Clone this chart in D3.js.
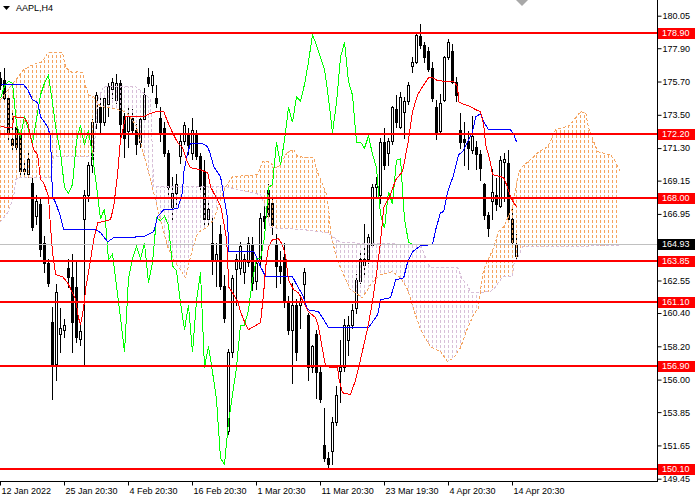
<!DOCTYPE html>
<html>
<head>
<meta charset="utf-8">
<script src="https://cdn.jsdelivr.net/npm/d3@7"></script>
<style>
  body { margin: 0; background: #fff; }
  svg text { font-family: "Liberation Sans", Arial, sans-serif; font-size: 9px; }
</style>
</head>
<body>
<div id="chart"></div>
<script>
// AAPL H4 bars, 12 Jan 2022 20:30 .. 18 Apr 16:30
const opens = [175.9,175.8,174.6,171.9,172.7,172.2,169.8,169.6,169.0,166.8,
  167.6,165.0,163.7,159.8,157.0,159.0,159.3,163.4,162.8,162.1,
  158.7,166.6,168.2,170.2,173.0,174.0,173.0,174.2,175.2,174.5,
  175.6,173.4,172.4,173.3,172.5,171.7,173.2,176.0,175.5,174.6,
  173.3,172.6,171.0,167.4,168.3,170.8,171.8,172.2,171.0,172.3,
  170.8,169.8,166.6,165.0,163.9,165.6,162.2,152.6,157.8,163.3,
  163.4,163.1,163.8,164.9,162.5,163.9,166.8,168.5,167.7,164.9,
  163.5,164.1,161.1,159.3,160.9,160.9,162.3,160.3,156.8,159.0,
  156.5,151.7,150.8,151.3,153.2,156.6,156.8,158.6,159.6,160.7,
  162.5,163.6,164.0,164.9,168.7,168.2,171.7,171.0,171.8,173.9,
  172.7,173.7,174.4,176.7,177.0,178.7,178.1,177.7,176.6,174.0,
  172.4,174.5,177.3,177.7,175.7,172.5,171.9,171.8,171.2,171.4,
  170.9,168.9,166.9,167.8,168.2,167.5,170.4,170.3,166.6,164.2];
const highs = [176.3,176.6,174.8,173.6,173.1,172.5,170.3,171.0,169.3,168.2,
  168.0,165.5,164.0,160.8,162.3,160.7,160.0,164.0,164.3,163.8,
  159.8,168.5,170.4,173.2,175.0,174.6,174.8,175.6,175.9,176.2,
  175.8,173.6,174.0,173.9,172.9,173.4,175.3,176.6,176.4,175.5,
  174.0,173.0,171.2,169.4,169.6,172.2,173.0,172.6,173.3,172.5,
  171.0,170.5,167.8,166.7,165.0,166.2,162.9,158.0,162.9,164.3,
  165.1,164.3,165.4,165.4,163.8,167.0,167.7,168.9,168.1,165.6,
  164.5,165.0,161.5,162.4,161.3,161.6,163.4,160.4,158.3,159.3,
  156.9,154.1,151.2,153.5,155.6,158.6,160.0,160.2,161.0,163.0,
  164.5,166.3,165.6,168.9,169.4,172.0,172.6,172.0,174.1,174.8,
  175.0,174.7,175.7,177.3,178.9,179.5,178.3,178.0,177.0,174.5,
  174.9,177.4,178.5,178.2,176.0,173.6,173.0,172.4,173.4,171.8,
  171.2,169.0,167.1,169.9,169.3,170.8,171.0,171.2,167.4,165.6];
const lows = [175.2,174.4,171.8,171.2,171.1,169.5,169.4,169.4,165.9,166.3,
  164.2,163.1,162.2,154.7,156.0,157.8,158.8,162.1,157.8,158.5,
  158.3,157.0,167.8,169.7,172.6,172.3,172.8,173.4,174.6,174.3,
  172.1,170.7,171.4,172.2,170.9,171.4,173.0,175.4,175.0,174.0,
  171.8,170.8,168.0,166.6,167.5,170.3,171.6,170.9,170.6,170.6,
  168.5,166.2,166.2,163.0,162.2,162.0,159.8,152.4,157.5,160.9,
  163.0,162.4,163.5,161.9,162.0,163.5,166.0,166.6,165.6,162.1,
  162.4,160.8,159.0,155.8,157.3,159.4,161.2,156.0,156.5,154.8,
  154.5,150.6,150.1,150.4,153.0,154.5,156.6,157.6,159.4,160.4,
  162.4,163.0,163.7,164.8,168.1,167.7,169.9,170.2,171.6,172.7,
  172.6,172.0,174.2,176.3,176.9,177.9,177.0,176.4,174.4,171.9,
  172.2,174.4,177.2,175.6,174.4,171.3,170.2,169.9,171.0,169.9,
  169.2,166.6,165.5,166.6,167.2,167.4,167.8,166.4,165.0,163.9];
const closes = [175.5,174.6,172.2,171.5,171.4,169.8,169.9,170.6,166.1,167.8,
  164.6,163.7,162.4,157.0,161.8,159.4,159.6,162.8,159.8,158.8,
  159.2,168.2,170.2,173.0,174.8,173.0,174.6,175.4,175.7,175.6,
  172.9,172.0,173.4,172.5,171.6,173.2,174.8,175.6,176.1,174.3,
  172.3,171.0,168.7,168.3,168.9,171.8,172.8,171.5,172.5,170.8,
  168.8,166.6,167.3,163.9,164.3,162.2,160.1,157.8,162.7,164.0,
  164.8,164.0,165.0,162.4,163.7,166.7,166.5,166.8,166.2,163.5,
  163.2,161.1,159.3,160.9,157.8,161.2,163.1,156.8,158.2,156.5,
  154.7,150.8,150.4,153.2,155.0,156.8,159.6,159.6,160.6,162.6,
  164.0,164.0,165.4,168.7,168.9,171.7,170.2,171.8,174.0,173.0,
  174.7,174.4,175.5,177.0,178.8,178.1,177.3,176.5,174.6,172.3,
  174.3,177.3,178.3,175.7,174.8,171.7,171.7,171.3,172.1,170.9,
  170.0,166.9,166.0,168.4,167.6,170.5,170.6,166.6,165.1,164.93];

// Ichimoku lines: [bar, price]
const tenkan = [[0,172.71],[3,172.65],[3.3,173.37],[5.8,173.31],[6.8,172.98],[7.5,172.05],[8.3,171.19],[9.3,170.86],
  [10,169.21],[10.8,169.01],[12,168.09],[12.5,166.11],[13,164.39],[13.8,162.93],[15.5,162.8],[16.8,162.4],
  [18,161.74],[18.8,161.28],[19.5,160.09],[20,159.63],[20.8,160.75],[21.3,162.07],[22,163.06],[23.3,165.25],
  [24.3,166.37],[27.5,166.57],[28.3,167.43],[29.3,169.67],[30,171.85],[31.3,173.37],[35.8,173.37],[36.8,173.51],
  [38.8,173.71],[40.8,173.71],[41.8,173.04],[43,172.32],[44.3,171.66],[45.5,171.33],[46.8,170.33],[47.5,170.0],
  [50,169.87],[51.8,169.67],[52.5,168.75],[53.8,168.09],[55,167.5],[55.8,166.4],[56.5,165.3],[56.8,164.1],
  [57,162.14],[58,161.74],[59.3,161.15],[60,160.49],[61.3,159.63],[62,159.3],[63.3,159.5],[65,159.76],
  [65.8,161.74],[66.3,163.46],[67,164.78],[68,165.25],[69.5,165.31],[70.5,164.92],[71.3,164.12],[72,162.6],
  [73.3,161.94],[74.5,161.74],[75.8,161.08],[77,160.49],[78.8,160.09],[79.5,159.5],[80.5,157.98],[81.3,156.85],
  [84.3,156.79],[84.5,156.19],[85.5,155.13],[87.5,155.0],[88.8,156.0],[90,157.32],[91.8,159.43],[93,161.15],
  [94.3,163.59],[95,165.11],[95.8,167.36],[97.5,168.22],[98.8,169.21],[100.5,169.74],[101.8,171.52],[103,173.71],
  [104.3,174.83],[105.5,175.36],[107,175.95],[108,175.95],[109.3,175.75],[113.3,175.69],[114.3,175.36],[114.5,174.37],
  [115.5,174.23],[117.5,174.04],[118.8,173.84],[120,173.71],[120.8,172.85],[121.3,171.52],[122.5,170.33],[123,169.54],
  [125,169.41],[125.8,169.34],[126.8,168.68],[127.5,168.09],[128.3,167.69],[129,167.43]];
const kijun = [[0,175.49],[5.8,175.49],[6.8,175.16],[8,174.5],[9.3,174.3],[10,173.37],[11.8,172.71],[12.5,172.05],
  [13,168.09],[13.8,167.69],[15,166.77],[15.8,165.91],[23.8,165.91],[25,165.71],[26.8,165.11],[28.3,165.38],
  [35.8,165.44],[38.3,165.77],[39.3,166.77],[40.8,167.23],[44.3,167.29],[45.5,168.35],[45.8,169.67],[46.8,170.99],
  [47.5,171.59],[50.5,171.59],[51.8,171.39],[52.5,170.86],[53.3,170.07],[55,169.41],[55.8,168.22],[56.8,166.57],
  [57,164.45],[63.3,164.45],[64.3,163.92],[65,163.46],[66.3,162.8],[73,162.8],[74.3,162.14],[75.5,161.61],
  [76.8,160.62],[79.5,160.49],[80.8,159.96],[82,159.43],[92,159.43],[94.3,160.29],[95,161.28],[97.5,161.41],
  [98.8,162.6],[100.8,162.73],[101.8,163.79],[103,164.45],[105,164.85],[108,164.92],[108.8,165.91],[110,167.03],
  [110.8,167.1],[111.8,168.42],[113.3,169.54],[114.5,170.86],[115.5,171.06],[116.8,171.72],[118,172.38],[118.8,173.37],
  [120,173.57],[120.8,173.04],[122,172.52],[127.5,172.52],[128.3,172.19],[129,171.72]];
const spanA = [[0,174.5],[2.5,175.36],[4.5,176.02],[5.8,176.48],[8,176.81],[10.5,177.01],[11.8,177.6],[15.5,177.6],
  [16.3,176.61],[18,176.28],[19.3,176.35],[20.5,176.28],[21.3,175.36],[22,174.83],[23.3,174.7],[25,174.04],
  [27.5,173.97],[31.3,173.71],[33.8,172.85],[35.5,171.19],[37.5,169.21],[40,166.57],[41.8,164.78],[43.3,163.92],
  [46.3,162.73],[47.5,164.12],[49.3,165.71],[51.8,166.11],[53.3,166.57],[55,167.89],[56.3,168.75],[58,169.41],
  [64.3,169.54],[65.5,170.4],[67.5,170.4],[68.3,170.0],[69.5,170.07],[71.8,171.06],[73.3,171.19],[74.3,170.73],
  [78.3,170.66],[79.3,169.67],[81.3,168.42],[82,167.43],[82.5,165.71],[83.8,164.25],[85,163.39],[87.5,161.94],
  [90.5,161.41],[92.5,162.27],[95,162.93],[98,163.13],[100,162.73],[101.8,161.94],[103.3,160.62],[105,159.3],
  [107.5,158.17],[110,157.85],[111.8,157.18],[113.3,157.45],[115,158.11],[116.8,159.43],[118.3,160.29],[119.5,160.75],
  [120.5,162.93],[121.3,163.59],[123.3,164.72],[124.5,165.77],[125.8,166.11],[128,167.36],[129.5,169.67],[130.8,170.2],
  [132,170.4],[134.3,170.99],[136.8,171.39],[138.8,172.52],[140.8,172.65],[142.5,172.85],[143.8,173.31],[145,173.71],
  [146.3,173.64],[147,172.65],[148.3,171.72],[149.3,171.06],[152.5,170.86],[153.8,170.4],[155,169.67]];
const spanB = [[0,166.43],[1.8,167.03],[3.3,168.09],[3.8,169.21],[4.3,169.34],[12.5,169.34],[13.3,170.73],[23.3,170.73],
  [24.3,174.5],[25.8,175.36],[33.8,175.36],[36.3,174.83],[37.5,174.5],[38.3,168.75],[56.3,168.75],[65,168.22],
  [66.3,167.36],[67.5,166.04],[75.8,165.91],[81.8,165.71],[82.5,165.58],[85,165.05],[105,164.92],[106.3,164.06],
  [107.5,163.39],[114.3,163.39],[115.5,162.6],[116.8,162.27],[117.5,161.74],[122.5,161.81],[123.8,162.14],[125.5,162.8],
  [128,162.8],[128.3,163.59],[129.3,164.06],[130.5,164.78],[155,164.85]];

const levels = [178.90, 172.20, 168.00, 163.85, 161.10, 156.90, 150.10];
const lastPrice = 164.93;
const priceTicks = [180.05, 177.90, 175.70, 173.50, 171.30, 169.15, 166.95, 162.55, 160.40, 158.20, 156.00, 153.85, 151.65, 149.45];
const timeTicks = [0, 16, 32, 48, 64, 80, 96, 112, 128];
const timeLabels = ["12 Jan 2022", "25 Jan 20:30", "4 Feb 20:30", "16 Feb 20:30", "1 Mar 20:30",
  "11 Mar 20:30", "23 Mar 19:30", "4 Apr 20:30", "14 Apr 20:30"];

const W = 657, H = 481;

const svg = d3.select("#chart").append("svg")
    .attr("width", 700)
    .attr("height", 500);

const x = d3.scaleLinear().domain([0, 155]).range([0, 620]);
const y = d3.scaleLinear().domain([149.45, 180.05]).range([478.7, 15.7]);

const defs = svg.append("defs");
defs.append("clipPath").attr("id", "plot")
  .append("rect").attr("width", W).attr("height", H);

// hatch patterns like the MT4 dotted histogram
function hatch(id, color) {
    defs.append("pattern")
        .attr("id", id)
        .attr("patternUnits", "userSpaceOnUse")
        .attr("width", 4)
        .attr("height", 5)
      .append("rect")
        .attr("x", 0).attr("y", 0)
        .attr("width", 1).attr("height", 3)
        .attr("fill", color);
}
hatch("hatchA", "#F4A460");
hatch("hatchB", "#D8BFD8");

const above = d3.area().x(d => x(d[0])).y0(0).y1(d => y(d[1]));
const below = d3.area().x(d => x(d[0])).y0(H).y1(d => y(d[1]));

defs.append("clipPath").attr("id", "aboveB").append("path").attr("d", above(spanB));
defs.append("clipPath").attr("id", "aboveA").append("path").attr("d", above(spanA));

const plot = svg.append("g").attr("clip-path", "url(#plot)");

// candles
const idx = d3.range(closes.length);
plot.selectAll(".wick")
    .data(idx)
    .join("line")
    .attr("class", "wick")
    .attr("x1", i => x(i) + 0.5).attr("x2", i => x(i) + 0.5)
    .attr("y1", i => Math.round(y(highs[i])))
    .attr("y2", i => Math.round(y(lows[i])) + 1)
    .attr("stroke", "#000")
    .attr("shape-rendering", "crispEdges");

plot.selectAll(".body")
    .data(idx)
    .join("rect")
    .attr("class", "body")
    .attr("x", i => x(i) - 0.5)
    .attr("y", i => Math.round(y(Math.max(opens[i], closes[i]))) + 0.5)
    .attr("width", 2)
    .attr("height", i => Math.max(1, Math.round(y(Math.min(opens[i], closes[i]))) - Math.round(y(Math.max(opens[i], closes[i])))))
    .attr("fill", i => closes[i] >= opens[i] ? "#fff" : "#000")
    .attr("stroke", "#000")
    .attr("stroke-width", 1)
    .attr("shape-rendering", "crispEdges");

// cloud: orange where A is above B, thistle where B is above A
plot.append("path")
    .attr("d", below(spanA))
    .attr("fill", "url(#hatchA)")
    .attr("clip-path", "url(#aboveB)");
plot.append("path")
    .attr("d", below(spanB))
    .attr("fill", "url(#hatchB)")
    .attr("clip-path", "url(#aboveA)");

const line = d3.line().x(d => x(d[0]) + 0.5).y(d => y(d[1]));

plot.append("path").attr("d", line(spanA))
    .attr("fill", "none").attr("stroke", "#F4A460").attr("stroke-dasharray", "3,2")
    .attr("shape-rendering", "crispEdges");
plot.append("path").attr("d", line(spanB))
    .attr("fill", "none").attr("stroke", "#D8BFD8").attr("stroke-dasharray", "3,2")
    .attr("shape-rendering", "crispEdges");

// chikou = close plotted 26 bars back
const chikou = idx.filter(i => i >= 26).map(i => [i - 26, closes[i]]);
[[chikou, "#00FF00"], [kijun, "#0000FF"], [tenkan, "#FF0000"]].forEach(s => {
    plot.append("path").attr("d", line(s[0]))
        .attr("fill", "none").attr("stroke", s[1]).attr("stroke-width", 1)
        .attr("shape-rendering", "crispEdges");
});

// bid line
plot.append("line")
    .attr("x1", 0).attr("x2", W)
    .attr("y1", Math.round(y(lastPrice)) + 0.5).attr("y2", Math.round(y(lastPrice)) + 0.5)
    .attr("stroke", "#C0C0C0");

// horizontal levels
plot.selectAll(".level")
    .data(levels)
    .join("line")
    .attr("class", "level")
    .attr("x1", 0).attr("x2", W)
    .attr("y1", d => Math.round(y(d))).attr("y2", d => Math.round(y(d)))
    .attr("stroke", "#FF0000")
    .attr("stroke-width", 2);

// frame
svg.append("line").attr("x1", W + 0.5).attr("x2", W + 0.5).attr("y1", 0).attr("y2", H + 1)
    .attr("stroke", "#000");
svg.append("line").attr("x1", 0).attr("x2", W + 1).attr("y1", H + 0.5).attr("y2", H + 0.5)
    .attr("stroke", "#000");

// price axis
const yAxis = svg.append("g")
    .attr("transform", "translate(" + (W + 0.5) + ",0)")
    .call(d3.axisRight(y).tickValues(priceTicks).tickSize(4).tickSizeOuter(0).tickPadding(1)
        .tickFormat(d3.format(".2f")));
yAxis.select(".domain").remove();
yAxis.selectAll("text").attr("font-size", 9).attr("fill", "#000");

// time axis
const xAxis = svg.append("g")
    .attr("transform", "translate(0," + (H + 0.5) + ")")
    .call(d3.axisBottom(x).tickValues(timeTicks).tickSize(4).tickSizeOuter(0)
        .tickFormat((d, k) => timeLabels[k]));
xAxis.select(".domain").remove();
xAxis.selectAll(".tick").attr("transform", d => "translate(" + (x(d) + 0.5) + ",0)");
xAxis.selectAll("text").attr("font-size", 9).attr("fill", "#000")
    .style("text-anchor", "start").attr("x", 1).attr("y", 6);

// level labels on the price axis
const tags = levels.map(v => ({ v: v, bg: "#FF0000" })).concat([{ v: lastPrice, bg: "#000" }]);
const tag = svg.selectAll(".tag")
    .data(tags)
    .join("g")
    .attr("class", "tag")
    .attr("transform", d => "translate(" + (W + 1) + "," + Math.round(y(d.v)) + ")");
tag.append("rect")
    .attr("x", 0).attr("y", -5)
    .attr("width", 37).attr("height", 11)
    .attr("fill", d => d.bg);
tag.append("text")
    .attr("x", 4).attr("y", 0).attr("dy", "0.35em")
    .attr("fill", "#fff")
    .text(d => d3.format(".2f")(d.v));

// chart caption
svg.append("path").attr("d", "M3,6 L10,6 L6.5,10 Z").attr("fill", "#000");
svg.append("text")
    .attr("x", 16).attr("y", 11)
    .attr("font-size", 9.5)
    .attr("fill", "#000")
    .text("AAPL,H4");

// chart shift marker
svg.append("path").attr("d", "M516,0 L528,0 L522,6 Z").attr("fill", "#A8A8A8");
</script>
</body>
</html>
